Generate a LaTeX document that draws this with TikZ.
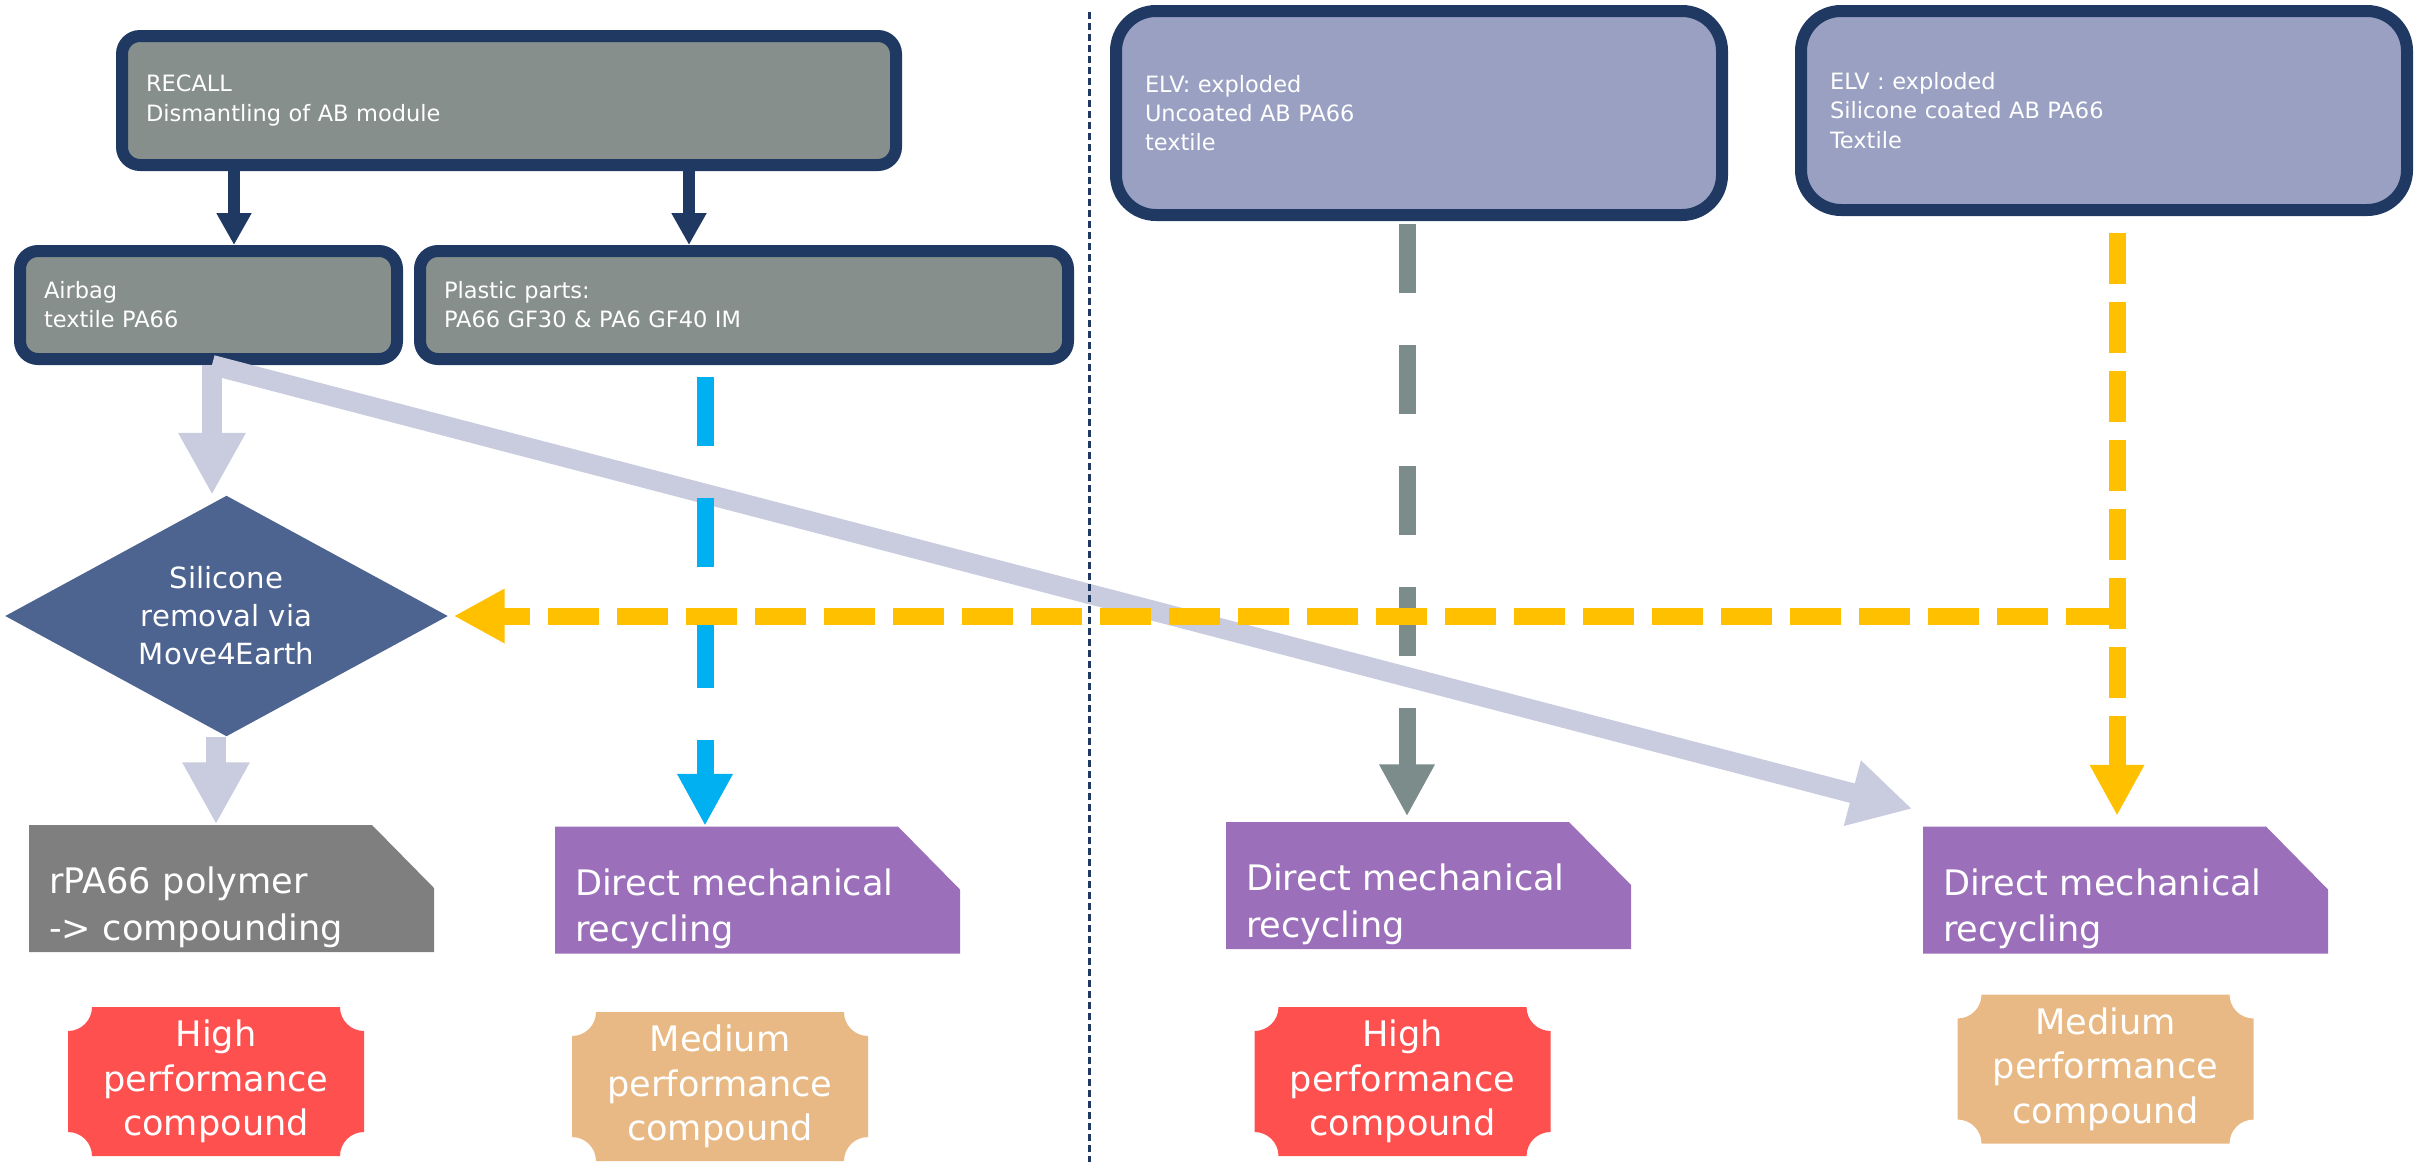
\documentclass[tikz,border=0pt]{standalone}
\usepackage{fontspec}
\setmainfont{DejaVu Sans}
\usetikzlibrary{shapes.geometric,arrows.meta}

\definecolor{navy}{RGB}{31,57,99}
\definecolor{boxgrey}{RGB}{135,143,140}
\definecolor{elvblue}{RGB}{153,160,194}
\definecolor{slate}{RGB}{77,99,144}
\definecolor{haze}{RGB}{201,204,222}
\definecolor{cyanblue}{RGB}{0,176,240}
\definecolor{steel}{RGB}{123,140,138}
\definecolor{amber}{RGB}{255,192,0}
\definecolor{cardgrey}{RGB}{127,127,127}
\definecolor{lilac}{RGB}{155,111,186}
\definecolor{coral}{RGB}{255,80,80}
\definecolor{sand}{RGB}{232,185,132}

\tikzset{
  box/.style={rectangle, rounded corners=1.8mm, draw=navy, line width=1.2mm, fill=boxgrey,
    text=white, align=left, inner xsep=2.4mm, font=\fontsize{6.4}{8.3}\selectfont},
  elvbox/.style={box, rounded corners=4mm, fill=elvblue, inner xsep=2.9mm},
  decision/.style={diamond, aspect=1.84, inner sep=0pt, fill=slate, text=white, align=center,
    minimum width=44.3mm, minimum height=24.1mm, font=\fontsize{8.3}{10.8}\selectfont},
  card/.style={rectangle, minimum width=40.5mm, minimum height=12.7mm, inner xsep=2mm, inner ysep=0pt,
    text width=36.5mm, align=left, text=white, text height=18.6pt, text depth=15.5pt,
    font=\fontsize{10}{13.1}\selectfont,
    path picture={\fill[#1] (path picture bounding box.south west) -- (path picture bounding box.north west)
      -- ([xshift=-6.2mm]path picture bounding box.north east) -- ([yshift=-6.3mm]path picture bounding box.north east)
      -- (path picture bounding box.south east) -- cycle;}},
  plaque/.style={rectangle, minimum width=29.6mm, minimum height=14.9mm, inner sep=0pt,
    text width=29.6mm, align=center, text=white, font=\fontsize{10}{12.6}\selectfont,
    path picture={\fill[#1] ([xshift=2.4mm]path picture bounding box.south west)
      -- ([xshift=-2.4mm]path picture bounding box.south east) arc[start angle=180, end angle=90, radius=2.4mm]
      -- ([yshift=-2.4mm]path picture bounding box.north east) arc[start angle=270, end angle=180, radius=2.4mm]
      -- ([xshift=2.4mm]path picture bounding box.north west) arc[start angle=0, end angle=-90, radius=2.4mm]
      -- ([yshift=2.4mm]path picture bounding box.south west) arc[start angle=90, end angle=0, radius=2.4mm]
      -- cycle;}},
  navyarrow/.style={draw=navy, line width=1.2mm, -{Triangle[width=3.3mm,length=3.2mm]}},
  hazearrow/.style={draw=haze, line width=2mm, -{Triangle[width=6.3mm,length=6.2mm]}},
  longdash/.style={draw=#1, line width=1.7mm, dash pattern=on 6.9mm off 5.2mm, -{Triangle[width=5.2mm,length=5.2mm]}},
  shortdash/.style={draw=amber, line width=1.7mm, dash pattern=on 5.1mm off 1.8mm, -{Triangle[width=5.1mm,length=5.1mm]}},
  sepline/.style={draw=navy, line width=0.3mm, dash pattern=on 0.7mm off 0.4mm}
}

\begin{document}
\begin{tikzpicture}[x=0.1mm, y=-0.1mm]
\useasboundingbox (0,0) rectangle (2432,1162);

% Nodes
\node (recall) [box, text width=72.6mm, minimum height=12.9mm] at (509,100.5) {RECALL\\Dismantling of AB module};
\node (airbag) [box, text width=32.9mm, minimum height=10.8mm] at (208.5,305) {Airbag\\textile PA66};
\node (plastic) [box, text width=60mm, minimum height=10.8mm] at (744,305) {Plastic parts:\\PA66 GF30 \& PA6 GF40 IM};
\node (elv1) [elvbox, text width=54.8mm, minimum height=20.4mm] at (1419,113) {ELV: exploded\\Uncoated AB PA66\\textile};
\node (elv2) [elvbox, text width=54.8mm, minimum height=19.9mm] at (2104,110.5) {ELV : exploded\\Silicone coated AB PA66\\Textile};

\node (removal) [decision] at (226.5,616) {Silicone\\removal via\\Move4Earth};

\node (rpa) [card=cardgrey] at (231.5,888.5) {rPA66 polymer\\-> compounding};
\node (dmr1) [card=lilac] at (757.5,890) {Direct mechanical\\recycling};
\node (dmr2) [card=lilac] at (1428.5,885.5) {Direct mechanical\\recycling};
\node (dmr3) [card=lilac] at (2125.5,890) {Direct mechanical\\recycling};

\node (high1) [plaque=coral] at (216,1081.5) {High\\performance\\compound};
\node (med1) [plaque=sand] at (720,1086.5) {Medium\\performance\\compound};
\node (high2) [plaque=coral] at (1402.5,1081.5) {High\\performance\\compound};
\node (med2) [plaque=sand] at (2105.5,1069) {Medium\\performance\\compound};

% Arrow columns
\coordinate (c1) at (234,0);
\coordinate (c2) at (689,0);
\coordinate (c3) at (212,0);
\coordinate (c4) at (216,0);
\coordinate (c5) at (705,0);
\coordinate (c6) at (1407,0);
\coordinate (c7) at (2117,0);

% Arrows
\draw[navyarrow] (recall.south -| c1) -- (airbag.north -| c1);
\draw[navyarrow] (recall.south -| c2) -- (plastic.north -| c2);

\draw[hazearrow] (airbag.south -| c3) -- (removal.north -| c3);
\draw[hazearrow] (airbag.south -| c3) -- ([xshift=-1mm,yshift=1.7mm]dmr3.north west);
\draw[hazearrow] (removal.south -| c4) -- (rpa.north -| c4);

\draw[sepline] (1089,12) -- (1089,1162);

\draw[longdash=cyanblue, shorten <=1.2mm] (plastic.south -| c5) -- (dmr1.north -| c5);
\draw[longdash=steel, shorten <=0.3mm, shorten >=0.5mm] (elv1.south -| c6) -- (dmr2.north -| c6);

\draw[shortdash, shorten <=1.7mm, shorten >=1mm] (elv2.south -| c7) -- (dmr3.north -| c7);
\draw[shortdash, shorten >=0.5mm] (removal.east -| c7) -- (removal.east);
\end{tikzpicture}
\end{document}
